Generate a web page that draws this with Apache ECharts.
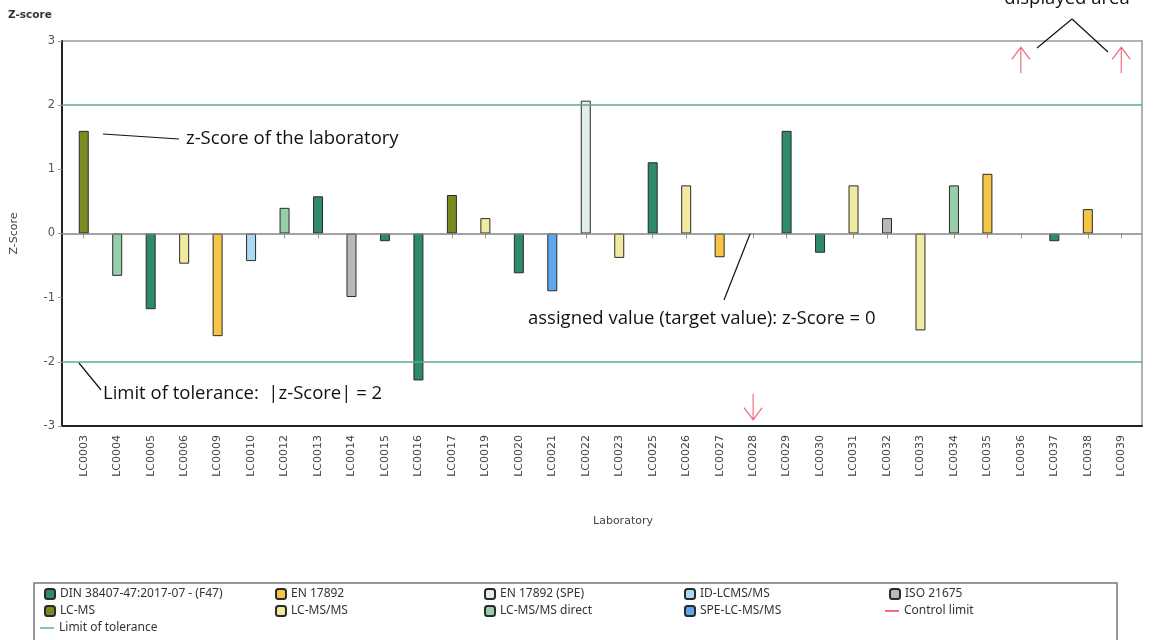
<!DOCTYPE html>
<html>
<head>
<meta charset="utf-8">
<script src="https://cdn.jsdelivr.net/npm/echarts@6/dist/echarts.min.js"></script>
<style>
  html, body { margin: 0; padding: 0; background: #fff; }
  #chart { width: 1154px; height: 640px; }
</style>
</head>
<body>
<div id="chart"></div>
<script>
// laboratories in axis order
const labs = [
  "LC0003", "LC0004", "LC0005", "LC0006", "LC0009", "LC0010", "LC0012", "LC0013",
  "LC0014", "LC0015", "LC0016", "LC0017", "LC0019", "LC0020", "LC0021", "LC0022",
  "LC0023", "LC0025", "LC0026", "LC0027", "LC0028", "LC0029", "LC0030", "LC0031",
  "LC0032", "LC0033", "LC0034", "LC0035", "LC0036", "LC0037", "LC0038", "LC0039"
];
// z-scores (null = outside the displayed area)
const zScores = [
  1.6, -0.66, -1.18, -0.47, -1.6, -0.43, 0.4, 0.58,
  -0.99, -0.12, -2.29, 0.6, 0.24, -0.62, -0.9, 2.07,
  -0.38, 1.11, 0.75, -0.37, null, 1.6, -0.3, 0.75,
  0.24, -1.51, 0.75, 0.93, null, -0.12, 0.38, null
];
const DIN = "DIN 38407-47:2017-07 - (F47)";
const labMethods = [
  "LC-MS", "LC-MS/MS direct", DIN, "LC-MS/MS", "EN 17892", "ID-LCMS/MS", "LC-MS/MS direct", DIN,
  "ISO 21675", DIN, DIN, "LC-MS", "LC-MS/MS", DIN, "SPE-LC-MS/MS", "EN 17892 (SPE)",
  "LC-MS/MS", DIN, "LC-MS/MS", "EN 17892", null, DIN, DIN, "LC-MS/MS",
  "ISO 21675", "LC-MS/MS", "LC-MS/MS direct", "EN 17892", null, DIN, "EN 17892", null
];
// labs whose score is off the displayed area
const outOfRange = [
  "", "", "", "", "", "", "", "", "", "", "", "", "", "", "", "",
  "", "", "", "", "below", "", "", "", "", "", "", "", "above", "", "", "above"
];
const methods = [
  DIN, "EN 17892", "EN 17892 (SPE)", "ID-LCMS/MS", "ISO 21675",
  "LC-MS", "LC-MS/MS", "LC-MS/MS direct", "SPE-LC-MS/MS"
];
const methodColors = [
  "#2e8b68", "#f7c545", "#e1efe6", "#a9dcf2", "#b9b9b9",
  "#7d8a22", "#f1eba2", "#97cfaa", "#5ea9ee"
];
const toleranceLimits = [-2, 2];
const targetValue = 0;
const yMin = -3, yMax = 3, yStep = 1;

const legendColumns = [
  [DIN, "LC-MS"],
  ["EN 17892", "LC-MS/MS"],
  ["EN 17892 (SPE)", "LC-MS/MS direct"],
  ["ID-LCMS/MS", "SPE-LC-MS/MS"],
  ["ISO 21675"]
];
const legendLefts = [44, 275, 484, 684, 889];

const chart = echarts.init(document.getElementById("chart"));

const arrowPath = "path://M9,0 L9,26 M1,12 L9,0 L17,12";
const arrowLevel = 2.7;

const series = methods.map((m, k) => ({
  name: m,
  type: "bar",
  xAxisIndex: 1,
  yAxisIndex: 1,
  stack: "z",
  barWidth: 10,
  itemStyle: { color: methodColors[k], borderColor: "#2a2a2a", borderWidth: 1 },
  data: zScores.map((v, i) => (labMethods[i] === m ? v : "-"))
}));

series.push({
  name: "Limit of tolerance",
  type: "line",
  xAxisIndex: 0,
  yAxisIndex: 0,
  data: [],
  symbol: "none",
  color: "#5fa69c",
  lineStyle: { color: "#5fa69c", width: 1.5 },
  markLine: {
    silent: true,
    symbol: "none",
    label: { show: false },
    lineStyle: { color: "#5fa69c", width: 1.5, type: "solid" },
    data: toleranceLimits.map(v => ({ yAxis: v })).concat([
      { yAxis: targetValue, lineStyle: { color: "#858585", width: 1.5, type: "solid" } }
    ])
  }
});

series.push({
  name: "Control limit",
  type: "line",
  xAxisIndex: 0,
  yAxisIndex: 0,
  data: [],
  symbol: "none",
  color: "#e8334f",
  lineStyle: { color: "#e8334f", width: 1.5 }
});

series.push({
  name: "Out of range",
  type: "scatter",
  xAxisIndex: 1,
  yAxisIndex: 1,
  symbol: arrowPath,
  symbolSize: [18, 26],
  itemStyle: { color: "rgba(0,0,0,0)", borderColor: "#ec3b55", borderWidth: 1.3 },
  data: outOfRange.map(o => {
    if (o === "above") return { value: arrowLevel };
    if (o === "below") return { value: -arrowLevel, symbolRotate: 180 };
    return "-";
  })
});

const legendFont = "'Liberation Sans Narrow', 'Noto Sans', sans-serif";
const legendText = { color: "#333", fontSize: 12, fontFamily: legendFont };
const rowTops = [588, 605, 622];
const legends = legendColumns.map((col, c) => ({
  left: legendLefts[c],
  top: rowTops[0],
  orient: "vertical",
  padding: 0,
  itemWidth: 10,
  itemHeight: 10,
  itemGap: 5,
  selectedMode: false,
  data: col,
  textStyle: legendText
}));
const lineIcon = "path://M0,0 L14,0 L14,1.4 L0,1.4 Z";
legends.push(
  { left: 40, top: rowTops[2], padding: 0, itemWidth: 14, itemHeight: 10, itemGap: 0, selectedMode: false,
    data: [{ name: "Limit of tolerance", icon: lineIcon }], textStyle: legendText },
  { left: 885, top: rowTops[1], padding: 0, itemWidth: 14, itemHeight: 10, itemGap: 0, selectedMode: false,
    data: [{ name: "Control limit", icon: lineIcon }], textStyle: legendText }
);

const annFont = "18.5px 'Open Sans', sans-serif";
const annLine = (x1, y1, x2, y2) => ({
  type: "line",
  shape: { x1, y1, x2, y2 },
  style: { stroke: "#111", lineWidth: 1.2 },
  z: 100
});
const annText = (x, y, text, align) => ({
  type: "text",
  x, y,
  style: { text, font: annFont, fill: "#111", textAlign: align || "left", textVerticalAlign: "middle" },
  z: 100
});

chart.setOption({
  animation: false,
  backgroundColor: "#fff",
  grid: [
    { left: 62, right: 12, top: 41, bottom: 214, show: true, borderColor: "#999", borderWidth: 1.5 },
    { left: 67, right: 16, top: 41, bottom: 214 }
  ],
  xAxis: [
    {
      type: "value", gridIndex: 0, min: 0, max: 1,
      axisLine: { show: true, onZero: false, lineStyle: { color: "#222", width: 2 } },
      axisTick: { show: false }, axisLabel: { show: false }, splitLine: { show: false }
    },
    {
      type: "category", gridIndex: 1, data: labs,
      axisLine: { show: false },
      axisTick: { show: true, alignWithLabel: true, length: 5, lineStyle: { color: "#999" } },
      axisLabel: { rotate: 90, margin: 9, color: "#444", fontSize: 11, fontFamily: "'DejaVu Sans', sans-serif" }
    }
  ],
  yAxis: [
    {
      type: "value", gridIndex: 0, min: yMin, max: yMax, interval: yStep,
      axisLine: { show: true, lineStyle: { color: "#222", width: 2 } },
      axisTick: { show: true, length: 4, lineStyle: { color: "#999" } },
      axisLabel: { color: "#555", fontSize: 11.5, margin: 7, fontFamily: "'DejaVu Sans', sans-serif" },
      splitLine: { show: false },
      name: "Z-Score", nameLocation: "middle", nameGap: 42, nameRotate: 90,
      nameTextStyle: { color: "#444", fontSize: 11, fontFamily: "'DejaVu Sans', sans-serif" }
    },
    {
      type: "value", gridIndex: 1, min: yMin, max: yMax, interval: yStep, show: false,
      splitLine: { show: false }
    }
  ],
  legend: legends,
  series,
  graphic: [
    {
      type: "text", x: 8, y: 15,
      style: { text: "Z-score", font: "bold 10.5px 'DejaVu Sans', sans-serif", fill: "#333", textVerticalAlign: "middle" }
    },
    {
      type: "text", x: 623, y: 521,
      style: { text: "Laboratory", font: "11px 'DejaVu Sans', sans-serif", fill: "#444", textAlign: "center", textVerticalAlign: "middle" }
    },
    {
      type: "rect",
      shape: { x: 34, y: 583, width: 1083, height: 70 },
      style: { fill: "none", stroke: "#777", lineWidth: 1.5 }
    },
    annLine(103, 134, 179, 139),
    annText(186, 139, "z-Score of the laboratory"),
    annLine(79, 363, 101, 390),
    annText(103, 394, "Limit of tolerance:  |z-Score| = 2"),
    annLine(750, 234, 724, 300),
    annText(528, 319, "assigned value (target value): z-Score = 0"),
    annLine(1072, 19, 1037, 48),
    annLine(1072, 19, 1108, 52),
    annText(1067, -1, "displayed area", "center")
  ]
});
</script>
</body>
</html>
